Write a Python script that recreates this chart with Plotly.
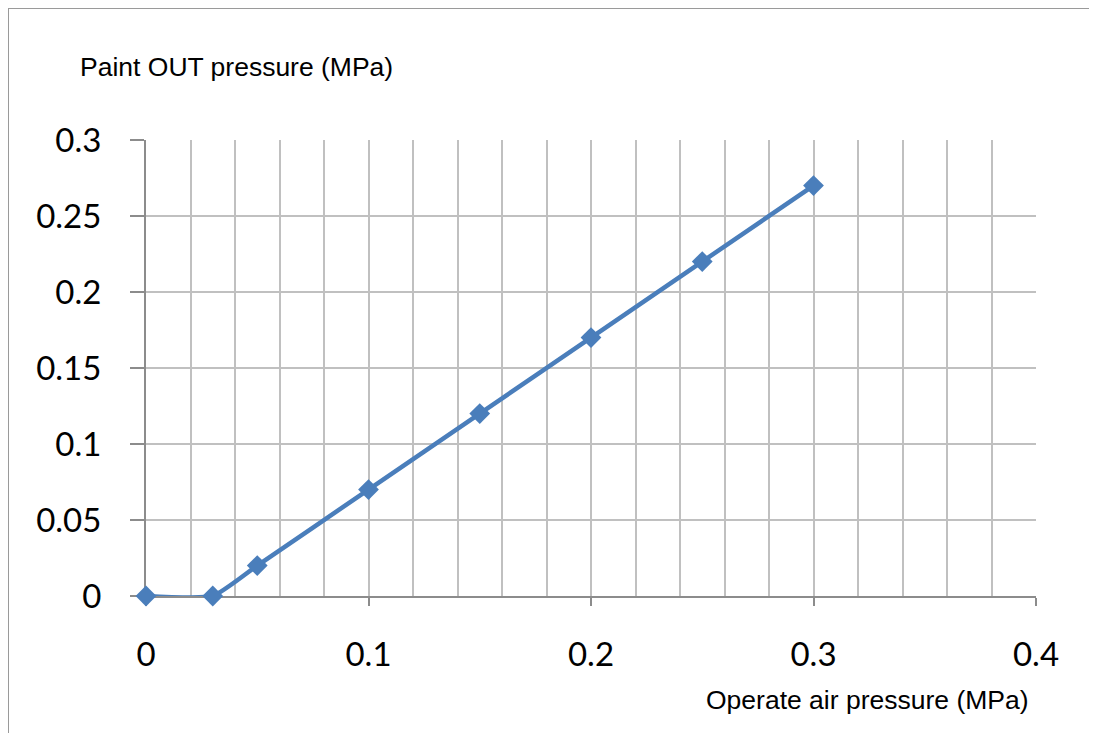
import plotly.graph_objects as go

air_pressure = [0, 0.03, 0.05, 0.1, 0.15, 0.2, 0.25, 0.3]
paint_out = [0, 0, 0.02, 0.07, 0.12, 0.17, 0.22, 0.27]

x_ticks = [0, 0.1, 0.2, 0.3, 0.4]
x_labels = ["0", "0.1", "0.2", "0.3", "0.4"]
y_ticks = [0, 0.05, 0.1, 0.15, 0.2, 0.25, 0.3]
y_labels = ["0", "0.05", "0.1", "0.15", "0.2", "0.25", "0.3"]

OFF = 8  # page body margin
W, H = 1097 - OFF, 733 - OFF
L, R, T, B = 146 - OFF, 61, 140 - OFF, 137
pw, ph = W - L - R, H - T - B

def px(x):
    return (x - OFF - L) / pw

def py(y):
    return (H - B - (y - OFF)) / ph

fig = go.Figure()
fig.add_trace(go.Scatter(
    x=air_pressure, y=paint_out,
    mode="lines+markers",
    line=dict(color="#4a7ebb", width=4.5, shape="spline", smoothing=0.5),
    marker=dict(symbol="diamond", size=16, color="#4a7ebb"),
    cliponaxis=False,
    showlegend=False,
))

fig.update_layout(
    width=W, height=H,
    margin=dict(l=L, r=R, t=T, b=B),
    paper_bgcolor="white", plot_bgcolor="white",
    xaxis=dict(
        range=[0, 0.4], tickvals=x_ticks, ticktext=x_labels,
        showgrid=True, gridcolor="#c0c0c0", gridwidth=1.5,
        minor=dict(dtick=0.02, showgrid=True, gridcolor="#c0c0c0", gridwidth=1.5),
        showline=True, linecolor="#8c8c8c", linewidth=2,
        ticks="outside", ticklen=8, tickcolor="#8c8c8c", tickwidth=1.5,
        ticklabelstandoff=20,
        tickfont=dict(family="Lato", size=33, color="#000"),
        zeroline=False, fixedrange=True, layer="below traces",
    ),
    yaxis=dict(
        range=[0, 0.3], tickvals=y_ticks, ticktext=y_labels,
        showgrid=True, gridcolor="#c0c0c0", gridwidth=1.5,
        showline=True, linecolor="#8c8c8c", linewidth=2,
        ticks="outside", ticklen=14, tickcolor="#8c8c8c", tickwidth=1.5,
        ticklabelstandoff=22,
        tickfont=dict(family="Lato", size=33, color="#000"),
        zeroline=False, fixedrange=True, layer="below traces",
    ),
    annotations=[
        dict(text="Paint OUT pressure (MPa)", xref="paper", yref="paper",
             x=px(78), y=py(67), xanchor="left", yanchor="middle",
             showarrow=False, font=dict(family="Liberation Sans", size=26.5, color="#000")),
        dict(text="Operate air pressure (MPa)", xref="paper", yref="paper",
             x=px(1031), y=py(700), xanchor="right", yanchor="middle",
             showarrow=False, font=dict(family="Liberation Sans", size=26.5, color="#000")),
    ],
    shapes=[
        dict(type="rect", xref="paper", yref="paper",
             x0=px(8), y0=py(745), x1=px(1110), y1=py(8),
             line=dict(color="#9a9a9a", width=2), layer="below"),
    ],
)

fig.write_html("out.html")
